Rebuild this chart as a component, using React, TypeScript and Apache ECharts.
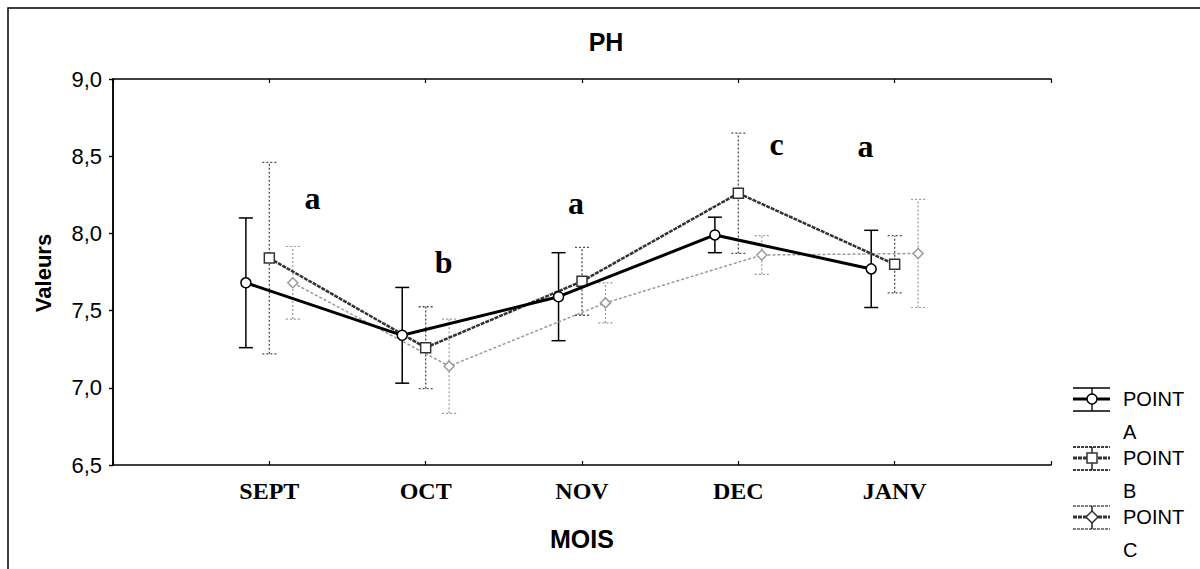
import React, { useEffect, useRef } from "react";
import * as echarts from "echarts";

// ---- data ----
const months = ["SEPT", "OCT", "NOV", "DEC", "JANV"];
const yTickLabels = ["6,5", "7,0", "7,5", "8,0", "8,5", "9,0"];
const seriesNames = ["POINT A", "POINT B", "POINT C"];

const meanA = [7.68, 7.34, 7.59, 7.99, 7.77];
const errA = [0.42, 0.31, 0.285, 0.115, 0.25];
const meanB = [7.84, 7.26, 7.69, 8.26, 7.8];
const errB = [0.62, 0.265, 0.22, 0.39, 0.185];
const meanC = [7.68, 7.14, 7.55, 7.86, 7.87];
const errC = [0.235, 0.305, 0.13, 0.125, 0.35];

const groupLetters = ["a", "b", "a", "c", "a"];

// ---- placement / styles ----
const letterPos = [
  [1.276, 8.23],
  [2.115, 7.815],
  [2.962, 8.2],
  [4.244, 8.58],
  [4.814, 8.565],
];
const offsets = [-0.15, 0, 0.15];

const styles = [
  { color: "#000000", width: 3, dash: null as any, barColor: "#000000", barWidth: 1.5, barDash: null as any, symbol: "circle" },
  { color: "#333333", width: 2.5, dash: [4, 1], barColor: "#505050", barWidth: 1.3, barDash: [2, 2], symbol: "rect" },
  { color: "#9a9a9a", width: 1.5, dash: [3, 2], barColor: "#9a9a9a", barWidth: 1.2, barDash: [2, 2], symbol: "diamond" },
];

const means = [meanA, meanB, meanC];
const errs = [errA, errB, errC];

function buildOption() {
  const series: any[] = [];
  for (let s = 2; s >= 0; s--) {
    const st = styles[s];
    const data = means[s].map((m, i) => [i + 1 + offsets[s], m - errs[s][i], m + errs[s][i]]);
    series.push({
      type: "custom",
      name: seriesNames[s] + " err",
      data,
      z: 2 + (2 - s),
      silent: true,
      renderItem: (params: any, api: any) => {
        const x = api.value(0);
        const pLo = api.coord([x, api.value(1)]);
        const pHi = api.coord([x, api.value(2)]);
        const hw = 7;
        const style = { stroke: st.barColor, lineWidth: st.barWidth, lineDash: st.barDash, fill: null };
        return {
          type: "group",
          children: [
            { type: "line", shape: { x1: pLo[0], y1: pLo[1], x2: pHi[0], y2: pHi[1] }, style },
            { type: "line", shape: { x1: pLo[0] - hw, y1: pLo[1], x2: pLo[0] + hw, y2: pLo[1] }, style },
            { type: "line", shape: { x1: pHi[0] - hw, y1: pHi[1], x2: pHi[0] + hw, y2: pHi[1] }, style },
          ],
        };
      },
    });
  }
  for (let s = 2; s >= 0; s--) {
    const st = styles[s];
    series.push({
      type: "line",
      name: seriesNames[s],
      data: means[s].map((m, i) => [i + 1 + offsets[s], m]),
      z: 6 + (2 - s),
      symbol: st.symbol,
      symbolSize: 10,
      showSymbol: true,
      lineStyle: { color: st.color, width: st.width, type: st.dash || "solid" },
      itemStyle: { color: "#ffffff", borderColor: st.color, borderWidth: 1.5 },
      emphasis: { disabled: true },
      silent: true,
    });
  }
  series.push({
    type: "scatter",
    name: "letters",
    data: letterPos.map((p) => p),
    symbolSize: 0,
    itemStyle: { color: "#000000", opacity: 1 },
    silent: true,
    z: 20,
    label: {
      show: true,
      position: "inside",
      formatter: (p: any) => groupLetters[p.dataIndex],
      color: "#000000",
      opacity: 1,
      textBorderWidth: 0,
      fontFamily: "Liberation Serif",
      fontWeight: "bold",
      fontSize: 32,
    },
  });

  const legendChildren: any[] = [];
  const lx0 = 1073, lx1 = 1110, lcx = 1092;
  for (let s = 0; s < 3; s++) {
    const y0 = 399 + s * 59;
    const thin = { stroke: s === 2 ? "#555" : "#000", lineWidth: 1.5, lineDash: s === 0 ? null : [3, 1] };
    legendChildren.push(
      { type: "line", shape: { x1: lx0, y1: y0 - 11, x2: lx1, y2: y0 - 11 }, style: thin },
      { type: "line", shape: { x1: lx0, y1: y0 + 12, x2: lx1, y2: y0 + 12 }, style: thin },
      { type: "line", shape: { x1: lcx, y1: y0 - 11, x2: lcx, y2: y0 + 12 }, style: { stroke: "#000", lineWidth: 1.3 } },
      { type: "line", shape: { x1: lx0, y1: y0, x2: lx1, y2: y0 }, style: { stroke: s === 0 ? "#000" : "#333", lineWidth: 3, lineDash: s === 0 ? null : [4, 1] } }
    );
    if (s === 0) {
      legendChildren.push({ type: "circle", shape: { cx: lcx, cy: y0, r: 5 }, style: { fill: "#fff", stroke: "#000", lineWidth: 1.5 } });
    } else if (s === 1) {
      legendChildren.push({ type: "rect", shape: { x: lcx - 5, y: y0 - 5, width: 10, height: 10 }, style: { fill: "#fff", stroke: "#333", lineWidth: 1.5 } });
    } else {
      legendChildren.push({ type: "polygon", shape: { points: [[lcx, y0 - 6], [lcx + 6, y0], [lcx, y0 + 6], [lcx - 6, y0]] }, style: { fill: "#fff", stroke: "#333", lineWidth: 1.5 } });
    }
    const [w1, w2] = seriesNames[s].split(" ");
    legendChildren.push(
      { type: "text", x: 1123, y: y0, style: { text: w1, fill: "#000", font: "20px 'Liberation Sans'", textAlign: "left", textVerticalAlign: "middle" } },
      { type: "text", x: 1123, y: y0 + 33, style: { text: w2, fill: "#000", font: "20px 'Liberation Sans'", textAlign: "left", textVerticalAlign: "middle" } }
    );
  }

  const axisLine = { show: true, lineStyle: { color: "#000", width: 1.5 } };

  return {
    animation: false,
    backgroundColor: "#ffffff",
    grid: { left: 113, top: 79, width: 938, height: 386, show: false },
    xAxis: [
      {
        type: "value",
        position: "bottom",
        min: 0,
        max: 6,
        interval: 1,
        axisLine,
        axisTick: { show: true, inside: true, length: 4, lineStyle: { color: "#000", width: 1.2 } },
        splitLine: { show: false },
        axisLabel: {
          margin: 14,
          formatter: (v: number) => (v >= 1 && v <= 5 ? months[v - 1] : ""),
          color: "#000",
          fontFamily: "Liberation Serif",
          fontWeight: "bold",
          fontSize: 24,
        },
        name: "MOIS",
        nameLocation: "middle",
        nameGap: 61,
        nameTextStyle: { color: "#000", fontFamily: "Liberation Sans", fontWeight: "bold", fontSize: 25 },
      },
      {
        type: "value",
        position: "top",
        min: 0,
        max: 6,
        interval: 1,
        axisLine,
        axisTick: { show: true, inside: true, length: 4, lineStyle: { color: "#000", width: 1.2 } },
        axisLabel: { show: false },
        splitLine: { show: false },
      },
    ],
    yAxis: [
      {
        type: "value",
        position: "left",
        min: 6.5,
        max: 9,
        interval: 0.5,
        axisLine,
        axisTick: { show: true, inside: false, length: 4, lineStyle: { color: "#000", width: 1.2 } },
        splitLine: { show: false },
        axisLabel: {
          margin: 11,
          formatter: (v: number, idx: number) => yTickLabels[idx] ?? String(v).replace(".", ","),
          color: "#000",
          fontFamily: "Liberation Sans",
          fontSize: 22,
        },
      },
      {
        type: "value",
        position: "right",
        min: 6.5,
        max: 9,
        interval: 0.5,
        axisLine,
        axisTick: { show: true, inside: true, length: 4, lineStyle: { color: "#000", width: 1.2 } },
        axisLabel: { show: false },
        splitLine: { show: false },
      },
    ],
    series,
    graphic: [
      { type: "rect", shape: { x: 8, y: 8, width: 1400, height: 800 }, style: { fill: null, stroke: "#000", lineWidth: 1.5 }, silent: true, z: 0 },
      { type: "text", x: 606, y: 42, style: { text: "PH", fill: "#000", font: "bold 25px 'Liberation Sans'", textAlign: "center", textVerticalAlign: "middle" } },
      { type: "text", x: 43, y: 273, rotation: Math.PI / 2, style: { text: "Valeurs", fill: "#000", font: "bold 22px 'Liberation Sans'", textAlign: "center", textVerticalAlign: "middle" } },
      { type: "group", children: legendChildren },
    ],
  };
}

export default function App() {
  const ref = useRef<HTMLDivElement>(null);
  useEffect(() => {
    if (!ref.current) return;
    const chart = echarts.init(ref.current, undefined, { renderer: "svg" });
    chart.setOption(buildOption() as any);
    return () => chart.dispose();
  }, []);
  return (
    <div
      ref={ref}
      style={{ position: "fixed", left: 0, top: 0, width: 1200, height: 569, background: "#fff" }}
    />
  );
}
